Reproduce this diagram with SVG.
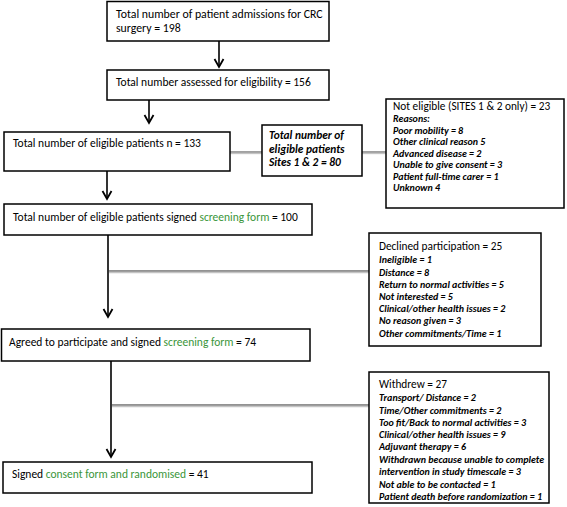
<svg xmlns="http://www.w3.org/2000/svg" width="567" height="507" viewBox="0 0 567 507">
<defs>
<style>
.bx{fill:#fff;stroke:#000;stroke-width:1.5}
.t{font-family:Carlito,Lato,"Liberation Sans",sans-serif;font-size:11.5px;fill:#000}
.t1{font-family:Carlito,Lato,"Liberation Sans",sans-serif;font-size:11.8px;fill:#000}
.h{font-family:Carlito,Lato,"Liberation Sans",sans-serif;font-size:11.3px;fill:#000}
.i{font-family:Carlito,Lato,"Liberation Sans",sans-serif;font-size:10px;font-style:italic;font-weight:bold;fill:#000}
.si{font-family:Carlito,Lato,"Liberation Sans",sans-serif;font-size:11.4px;font-style:italic;font-weight:bold;fill:#000}
.g{fill:#3a963a}
.v{stroke:#000;stroke-width:1.6;fill:none}
.hz{stroke:#6e6e6e;stroke-width:1.3;fill:none}
.hzs{stroke:#c4c4c4;stroke-width:1.3;fill:none}
</style>
<marker id="ah" viewBox="-10 -6 12 12" markerWidth="12" markerHeight="12" refX="0" refY="0" orient="auto" markerUnits="userSpaceOnUse">
<path d="M-8,-4.5 L0,0 L-8,4.5" fill="none" stroke="#000" stroke-width="1.8"/>
</marker>
</defs>
<rect width="567" height="507" fill="#fff"/>
<g id="connectors">
<line class="v" x1="219" y1="41" x2="219" y2="67" marker-end="url(#ah)"/>
<line class="v" x1="149" y1="100" x2="149" y2="123" marker-end="url(#ah)"/>
<line class="v" x1="107" y1="171" x2="107" y2="199" marker-end="url(#ah)"/>
<line class="v" x1="108" y1="235" x2="108" y2="317" marker-end="url(#ah)"/>
<line class="v" x1="111" y1="361" x2="111" y2="457" marker-end="url(#ah)"/>
<line class="hz" x1="230" y1="152" x2="262" y2="152"/>
<line class="hzs" x1="230" y1="153.5" x2="262" y2="153.5"/>
<line class="hz" x1="362" y1="152" x2="386" y2="152"/>
<line class="hzs" x1="362" y1="153.5" x2="386" y2="153.5"/>
<line class="hz" x1="109" y1="271" x2="369" y2="271"/>
<line class="hzs" x1="109" y1="272.5" x2="369" y2="272.5"/>
<line class="hz" x1="112" y1="405" x2="369" y2="405"/>
<line class="hzs" x1="112" y1="406.5" x2="369" y2="406.5"/>
</g>
<g id="n1">
<rect class="bx" x="107" y="1.5" width="222" height="39.5"/>
<text class="t1" x="116" y="18">Total number of patient admissions for CRC</text>
<text class="t1" x="116" y="31.5">surgery = 198</text>
</g>
<g id="n2">
<rect class="bx" x="107" y="70" width="222" height="30"/>
<text class="t" x="116" y="86">Total number assessed for eligibility = 156</text>
</g>
<g id="n3">
<rect class="bx" x="4" y="132" width="226" height="39"/>
<text class="t" x="13" y="147">Total number of eligible patients n = 133</text>
</g>
<g id="n_sites">
<rect class="bx" x="262" y="125" width="100" height="51"/>
<text class="si" x="269" y="139">Total number of</text>
<text class="si" x="269" y="152.5">eligible patients</text>
<text class="si" x="269" y="166">Sites 1 &amp; 2  = 80</text>
</g>
<g id="n_noteligible">
<rect class="bx" x="386" y="99" width="178" height="109"/>
<text class="h" x="393" y="110">Not eligible (SITES 1 &amp; 2 only) = 23</text>
<text class="i" x="393" y="122">Reasons:</text>
<text class="i" x="393" y="133.5">Poor mobility = 8</text>
<text class="i" x="393" y="145">Other clinical reason 5</text>
<text class="i" x="393" y="156.5">Advanced disease = 2</text>
<text class="i" x="393" y="168">Unable to give consent = 3</text>
<text class="i" x="393" y="179.5">Patient full-time carer = 1</text>
<text class="i" x="393" y="191">Unknown 4</text>
</g>
<g id="n4">
<rect class="bx" x="4" y="204" width="308" height="31"/>
<text class="t" x="13" y="221">Total number of eligible patients signed <tspan class="g">screening form</tspan> = 100</text>
</g>
<g id="n_declined">
<rect class="bx" x="369" y="233" width="172" height="113"/>
<text class="h" x="379" y="250">Declined participation = 25</text>
<text class="i" x="379" y="263">Ineligible = 1</text>
<text class="i" x="379" y="275.5">Distance = 8</text>
<text class="i" x="379" y="287.5">Return to normal activities = 5</text>
<text class="i" x="379" y="299.5">Not interested = 5</text>
<text class="i" x="379" y="312">Clinical/other health issues = 2</text>
<text class="i" x="379" y="324">No reason given = 3</text>
<text class="i" x="379" y="337">Other commitments/Time = 1</text>
</g>
<g id="n5">
<rect class="bx" x="1.5" y="329" width="308.5" height="32"/>
<text class="t" x="9" y="346">Agreed to participate and signed <tspan class="g">screening form</tspan> = 74</text>
</g>
<g id="n_withdrew">
<rect class="bx" x="369" y="372" width="180" height="131"/>
<text class="h" x="379" y="388">Withdrew = 27</text>
<text class="i" x="379" y="401">Transport/ Distance = 2</text>
<text class="i" x="379" y="413.5">Time/Other commitments = 2</text>
<text class="i" x="379" y="425.5">Too fit/Back to normal activities = 3</text>
<text class="i" x="379" y="437.5">Clinical/other health issues = 9</text>
<text class="i" x="379" y="450">Adjuvant therapy = 6</text>
<text class="i" x="379" y="463">Withdrawn because unable to complete</text>
<text class="i" x="379" y="475">intervention in study timescale = 3</text>
<text class="i" x="379" y="488">Not able to be contacted = 1</text>
<text class="i" x="379" y="500">Patient death before randomization = 1</text>
</g>
<g id="n6">
<rect class="bx" x="3" y="462" width="309" height="31"/>
<text class="t" x="12" y="478">Signed <tspan class="g">consent form and randomised</tspan> = 41</text>
</g>
</svg>
